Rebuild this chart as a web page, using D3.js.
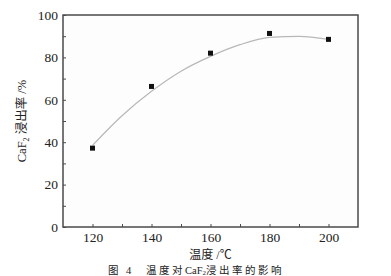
<!DOCTYPE html>
<html>
<head>
<meta charset="utf-8">
<script src="https://cdn.jsdelivr.net/npm/d3@7"></script>
<style>
  html, body { margin: 0; padding: 0; background: #fff; }
  svg { display: block; }
</style>
</head>
<body>
<div id="chart"></div>
<script>
// measured points
const temps = [120, 140, 160, 180, 200];
const leach = [37.2, 66.3, 82.0, 91.3, 88.5];

// fitted curve
const fitTemps = [120, 130, 140, 150, 160, 170, 180, 190, 200];
const fitVals = [38.5, 52.5, 64.0, 73.5, 80.5, 86.0, 89.4, 89.9, 88.5];

const xTicks = [120, 140, 160, 180, 200];
const xMinor = [130, 150, 170, 190];
const yTicks = [0, 20, 40, 60, 80, 100];
const yMinor = [10, 30, 50, 70, 90];

const width = 391, height = 276;
const margin = { top: 15, right: 33, bottom: 49, left: 63 };
const serif = "'Liberation Serif', 'Times New Roman', 'Noto Sans CJK SC', serif";

const svg = d3.select("#chart").append("svg")
  .attr("width", width)
  .attr("height", height);

const x = d3.scaleLinear().domain([110, 210]).range([margin.left, width - margin.right]);
const y = d3.scaleLinear().domain([0, 100]).range([height - margin.bottom, margin.top]);

// plot frame
svg.append("rect")
  .attr("x", x(110))
  .attr("y", y(100))
  .attr("width", x(210) - x(110))
  .attr("height", y(0) - y(100))
  .attr("fill", "#fdfdfd")
  .attr("stroke", "#4a4a4a")
  .attr("stroke-width", 1.5);

function styleAxis(g) {
  g.select(".domain").remove();
  g.selectAll(".tick line").attr("stroke", "#4a4a4a").attr("stroke-width", 1);
  g.selectAll(".tick text")
    .attr("fill", "#222")
    .style("font-family", serif)
    .style("font-size", "13.5px");
}

// x axis (ticks point inward)
svg.append("g")
  .attr("transform", `translate(0,${y(0)})`)
  .call(d3.axisBottom(x).tickValues(xTicks).tickSize(-3).tickPadding(5).tickFormat(d3.format("d")))
  .call(styleAxis);
svg.append("g")
  .attr("transform", `translate(0,${y(0)})`)
  .call(d3.axisBottom(x).tickValues(xMinor).tickSize(-3).tickFormat(""))
  .call(styleAxis);

// y axis
svg.append("g")
  .attr("transform", `translate(${x(110)},0)`)
  .call(d3.axisLeft(y).tickValues(yTicks).tickSize(-3).tickPadding(5).tickFormat(d3.format("d")))
  .call(styleAxis);
svg.append("g")
  .attr("transform", `translate(${x(110)},0)`)
  .call(d3.axisLeft(y).tickValues(yMinor).tickSize(-3).tickFormat(""))
  .call(styleAxis);

// fit curve
const line = d3.line()
  .x(d => x(d[0]))
  .y(d => y(d[1]))
  .curve(d3.curveMonotoneX);

svg.append("path")
  .datum(d3.zip(fitTemps, fitVals))
  .attr("fill", "none")
  .attr("stroke", "#b8b8b8")
  .attr("stroke-width", 1.2)
  .attr("d", line);

// square markers
const sz = 5;
svg.append("g")
  .selectAll("rect")
  .data(d3.zip(temps, leach))
  .join("rect")
  .attr("x", d => x(d[0]) - sz / 2)
  .attr("y", d => y(d[1]) - sz / 2)
  .attr("width", sz)
  .attr("height", sz)
  .attr("fill", "#111");

// axis titles
const yTitle = svg.append("text")
  .attr("transform", `translate(26,${(y(0) + y(100)) / 2}) rotate(-90)`)
  .attr("text-anchor", "middle")
  .attr("fill", "#222")
  .style("font-family", serif)
  .style("font-size", "12.5px");
yTitle.append("tspan").text("CaF");
yTitle.append("tspan").attr("dy", 3).style("font-size", "8px").text("2");
yTitle.append("tspan").attr("dy", -3).text(" 浸出率 /%");

svg.append("text")
  .attr("x", (x(110) + x(210)) / 2)
  .attr("y", 259)
  .attr("text-anchor", "middle")
  .attr("fill", "#222")
  .style("font-family", serif)
  .style("font-size", "12px")
  .text("温度 /℃");

// figure caption at the bottom edge
const cap = svg.append("text")
  .attr("x", 108)
  .attr("y", 273.5)
  .attr("fill", "#222")
  .style("font-family", serif)
  .style("font-size", "10.5px");
cap.append("tspan").style("letter-spacing", "2.5px").text("图 4");
cap.append("tspan").attr("x", 146).style("letter-spacing", "2.5px").text("温度对");
cap.append("tspan").text("CaF");
cap.append("tspan").attr("dy", 1).style("font-size", "7px").text("2");
cap.append("tspan").attr("dy", -1).style("letter-spacing", "2.5px").text("浸出率的影响");
</script>
</body>
</html>
